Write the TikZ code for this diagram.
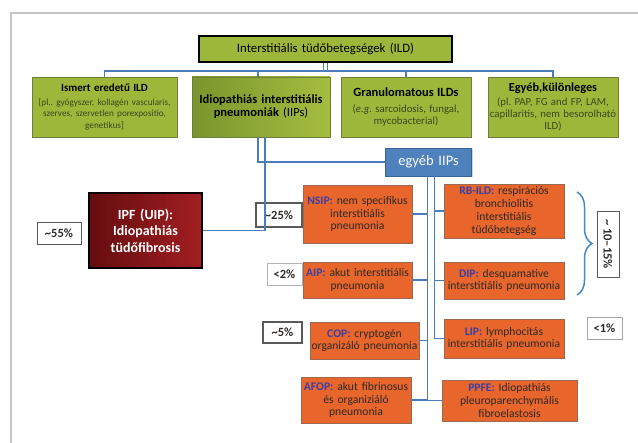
\documentclass[tikz,border=0pt]{standalone}
\usepackage{fontspec}
\setmainfont{Carlito}
\usetikzlibrary{shadows,decorations.pathreplacing}
\definecolor{ildgreen}{HTML}{9DB73A}
\definecolor{iipdark}{HTML}{7A952C}
\definecolor{iiplight}{HTML}{A5BD40}
\definecolor{grnedge}{HTML}{6F7F3A}
\definecolor{grntext}{HTML}{3C4720}
\definecolor{iiporange}{HTML}{E8652B}
\definecolor{orgedge}{HTML}{9A6A50}
\definecolor{txtdark}{HTML}{2E2A28}
\definecolor{acrblue}{HTML}{3B3FA6}
\definecolor{linkblue}{HTML}{4A7DBA}
\definecolor{boxblue}{HTML}{4F81BD}
\definecolor{boxblueedge}{HTML}{3A6396}
\definecolor{ipfdark}{HTML}{650D0F}
\definecolor{ipflight}{HTML}{A21E22}
\definecolor{framegray}{HTML}{C4C4C4}
\newcommand{\iipacr}[1]{\textcolor{acrblue}{\bfseries #1}}
\newcommand{\smalltext}{\fontsize{10.8}{12}\selectfont\color{grntext}}
\frenchspacing

\begin{document}
\begin{tikzpicture}[x=1pt, y=-1pt,
	link/.style={draw=linkblue, line width=1.5pt},
	box/.style={align=center, inner xsep=0pt, inner ysep=0pt,
		drop shadow={shadow xshift=1.2pt, shadow yshift=-1.2pt, opacity=.35}},
	grnbox/.style={box, draw=grnedge, line width=.6pt, fill=ildgreen},
	orgbox/.style={box, draw=orgedge, line width=.6pt, fill=iiporange,
		text=txtdark, font=\fontsize{11.6}{12.8}\selectfont},
	pctbox/.style={draw=gray!70!black, fill=white, line width=.8pt,
		inner sep=0pt, text=txtdark, font=\bfseries\fontsize{12.5}{14}\selectfont},
	]
	\useasboundingbox (0,0) rectangle (638,443);
	\draw [framegray, line width=2pt] (638,13) -- (11,13) -- (11,443);

	% top level
	\node [grnbox, draw=black, line width=2pt, text width=253, minimum height=26,
		font=\fontsize{12.8}{14}\selectfont] (ild) at (325.5,49)
		{Interstitiális tüdőbetegségek (ILD)};

	% second row
	\node [grnbox, text width=145, minimum height=60] (ismert) at (104.5,107)
		{{\bfseries\fontsize{11}{12}\selectfont Ismert eredetű ILD}\\[3pt]
		{\fontsize{9.2}{10.8}\selectfont\color{grntext}
			[pl.. gyógyszer, kollagén vascularis,\\
			szerves, szervetlen porexpositio,\\
			genetikus]}};
	\node [grnbox, left color=iipdark, right color=iiplight, text width=138,
		minimum height=60, font=\fontsize{12.5}{13}\selectfont] (iip) at (261,107)
		{\bfseries Idiopathiás interstitiális\\
		\bfseries pneumoniák \mdseries (IIPs)};
	\node [grnbox, text width=130, minimum height=60] (granu) at (406,107)
		{{\bfseries\fontsize{12.5}{13}\selectfont Granulomatous ILDs}\\[4pt]
		{\smalltext (\emph{e.g.} sarcoidosis, fungal,\\ mycobacterial)}};
	\node [grnbox, text width=130, minimum height=60] (egyeb) at (553,107)
		{{\bfseries\fontsize{12.3}{13}\selectfont Egyéb,különleges}\\[2pt]
		{\smalltext (pl. PAP, FG and FP, LAM,\\
			capillaritis, nem besorolható\\ ILD)}};

	% IIPs
	\node [box, draw=boxblueedge, line width=.6pt, fill=boxblue, text=white,
		text width=86, minimum height=28, font=\fontsize{14.5}{16}\selectfont]
		(egyebiip) at (428.5,162) {egyéb IIPs};
	\node [box, draw=black, line width=2.5pt, left color=ipfdark, right color=ipflight,
		text=white, text width=113, minimum height=75,
		font=\bfseries\fontsize{14}{16.5}\selectfont] (ipf) at (145.5,230.5)
		{IPF (UIP):\\ Idiopathiás\\ tüdőfibrosis};

	\node [orgbox, text width=109, minimum height=58] (nsip) at (357.5,214)
		{\iipacr{NSIP:} nem specifikus\\ interstitiális\\ pneumonia};
	\node [orgbox, text width=120, minimum height=54] (rbild) at (504,211)
		{\iipacr{RB-ILD:} respirációs\\ bronchiolitis\\ interstitiális\\ tüdőbetegség};
	\node [orgbox, text width=109, minimum height=36] (aip) at (357.5,280)
		{\iipacr{AIP:} akut interstitiális\\ pneumonia};
	\node [orgbox, text width=120, minimum height=37] (dip) at (504,280.5)
		{\iipacr{DIP:} desquamative\\ interstitiális pneumonia};
	\node [orgbox, text width=109, minimum height=37] (cop) at (364.5,340.5)
		{\iipacr{COP:} cryptogén\\ organizáló pneumonia};
	\node [orgbox, text width=120, minimum height=39] (lip) at (504,338.5)
		{\iipacr{LIP:} lymphocitás\\ interstitiális pneumonia};
	\node [orgbox, text width=110, minimum height=46] (afop) at (356,400)
		{\iipacr{AFOP:} akut fibrinosus\\ és organiziáló\\ pneumonia};
	\node [orgbox, text width=135, minimum height=41] (ppfe) at (509.5,400.5)
		{\iipacr{PPFE:} Idiopathiás\\ pleuroparenchymális\\ fibroelastosis};

	% percentages
	\node [pctbox, minimum width=44, minimum height=22] (p55) at (59,233)
		{\textasciitilde55\%};
	\node [pctbox, line width=1.4pt, minimum width=46, minimum height=24] (p25)
		at (279,215) {\textasciitilde25\%};
	\node [pctbox, draw=gray!60, minimum width=35, minimum height=22] (p2)
		at (284.5,274) {<2\%};
	\node [pctbox, line width=1.4pt, minimum width=39, minimum height=21] (p5)
		at (282.5,332.5) {\textasciitilde5\%};
	\node [pctbox, draw=gray!70, minimum width=35, minimum height=22] (p1)
		at (604.5,328) {<1\%};
	\node [pctbox, rotate=-90, minimum width=66, minimum height=22] (p1015)
		at (608,244) {\textasciitilde{} 10--15\%};

	% connectors
	\draw [link] ([xshift=-2pt]ild.south) -- ++(0,8);
	\draw [link] ([xshift=2pt]ild.south) -- ++(0,8) coordinate (bus);
	\draw [link] (ismert.north) |- (bus) -| (egyeb.north);
	\draw [link] ([xshift=-3pt]iip.north) -- ([xshift=-3pt]iip.north |- bus);
	\draw [link] (granu.north) -- (granu.north |- bus);
	\draw [link] ([xshift=-3pt]iip.south) |- (egyebiip.west);
	\draw [link] ([xshift=4pt]iip.south) |- (ipf.east);

	\coordinate (lbus) at ([xshift=-1pt]egyebiip.south);
	\coordinate (rbus) at ([xshift=6pt]egyebiip.south);
	\draw [link] (lbus) |- (afop.east);
	\draw [link] (lbus |- ppfe.west) -- (ppfe.west);
	\draw [link] (nsip.east) -- (nsip.east -| lbus);
	\draw [link] (aip.east) -- (aip.east -| lbus);
	\draw [link] (cop.east) -- (cop.east -| lbus);
	\draw [link] (rbus) |- (lip.west);
	\draw [link] (rbus |- rbild.west) -- (rbild.west);
	\draw [link] (rbus |- dip.west) -- (dip.west);

	% bracket
	\draw [draw=linkblue!90!cyan, line width=1.5pt, decorate,
		decoration={brace, amplitude=15pt, aspect=.5}] (577,192) -- (577,295);
\end{tikzpicture}
\end{document}
